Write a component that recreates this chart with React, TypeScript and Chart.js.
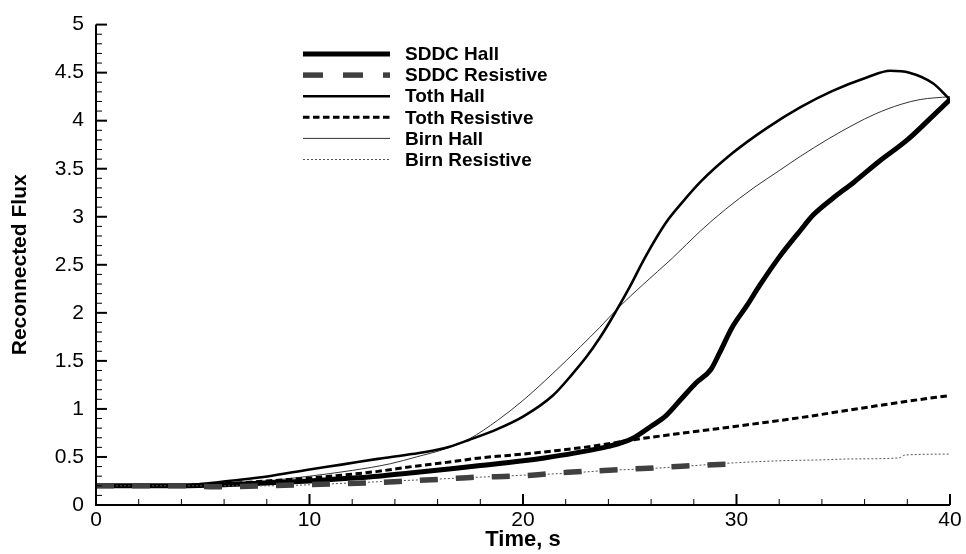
import React, { useEffect, useRef } from "react";
import { Chart, registerables } from "chart.js";

Chart.register(...registerables);

// ---------- data ----------
const seriesNames = ["SDDC Hall", "SDDC Resistive", "Toth Hall", "Toth Resistive", "Birn Hall", "Birn Resistive"];

const sddcHallT = [0, 2, 4, 6, 8, 10, 12, 13.2, 14.6, 16.3, 18, 20, 21, 22.4, 24, 25.1, 26, 26.7, 27.4, 28.1, 28.8, 29.2, 29.8, 30.5, 31.1, 32, 33, 33.6, 34.5, 35.5, 36.7, 38, 39.2, 40];
const sddcHallV = [0.2, 0.2, 0.2, 0.21, 0.23, 0.25, 0.28, 0.3, 0.33, 0.37, 0.41, 0.46, 0.49, 0.54, 0.61, 0.69, 0.82, 0.93, 1.1, 1.27, 1.41, 1.58, 1.85, 2.08, 2.29, 2.58, 2.86, 3.02, 3.19, 3.36, 3.58, 3.8, 4.05, 4.22];

const sddcResT = [0, 4, 5.6, 8, 11, 12.7, 14.6, 16.3, 17.8, 19.6, 20.4, 22.1, 23.8, 25.6, 27.2, 28.9, 30.3];
const sddcResV = [0.2, 0.2, 0.19, 0.2, 0.22, 0.23, 0.25, 0.27, 0.29, 0.3, 0.31, 0.34, 0.36, 0.38, 0.4, 0.42, 0.43];

const tothHallT = [0, 2, 3.9, 5, 6.2, 8.1, 10, 11.5, 13.2, 14.8, 16.3, 17.5, 18.8, 20, 21.4, 22.3, 23, 23.6, 24.1, 25, 25.7, 26.7, 27.5, 28.3, 29.8, 31.4, 33, 34.5, 36.1, 37.2, 38.1, 39.2, 40];
const tothHallV = [0.2, 0.2, 0.2, 0.22, 0.25, 0.3, 0.37, 0.42, 0.48, 0.53, 0.59, 0.68, 0.79, 0.92, 1.14, 1.36, 1.55, 1.74, 1.92, 2.27, 2.57, 2.94, 3.16, 3.36, 3.66, 3.92, 4.14, 4.31, 4.45, 4.52, 4.5, 4.39, 4.22];

const tothResT = [0, 4, 6, 8, 10, 11.5, 13.2, 14.8, 16.3, 18, 20, 21.5, 23.2, 25.2, 27.9, 30, 33, 36.2, 38, 40];
const tothResV = [0.2, 0.2, 0.22, 0.25, 0.28, 0.31, 0.35, 0.4, 0.44, 0.49, 0.53, 0.565, 0.61, 0.68, 0.76, 0.82, 0.91, 1.02, 1.08, 1.14];

const birnHallT = [0, 4, 5.5, 8, 10, 12, 13.8, 15, 16.3, 17.5, 18.8, 19.9, 21.4, 22.7, 23.6, 24.5, 25.6, 27, 28.3, 29.5, 30.8, 32, 33, 34.3, 35.5, 36.5, 37.7, 38.6, 40];
const birnHallV = [0.2, 0.2, 0.21, 0.25, 0.3, 0.36, 0.43, 0.5, 0.58, 0.69, 0.88, 1.07, 1.37, 1.65, 1.85, 2.06, 2.29, 2.57, 2.85, 3.08, 3.3, 3.48, 3.63, 3.81, 3.96, 4.07, 4.17, 4.22, 4.25];

const birnResT = [0, 4, 6, 8, 10, 12, 14, 16, 18, 20, 22, 24, 26, 28, 30, 32, 34, 35.5, 37.6, 37.9, 40];
const birnResV = [0.2, 0.2, 0.2, 0.2, 0.21, 0.23, 0.25, 0.27, 0.29, 0.31, 0.33, 0.36, 0.38, 0.41, 0.44, 0.46, 0.47, 0.48, 0.49, 0.52, 0.53];

const xMajorTicks = [0, 10, 20, 30, 40];
const yMajorTicks = [0, 0.5, 1, 1.5, 2, 2.5, 3, 3.5, 4, 4.5, 5];
const xTitle = "Time, s";
const yTitle = "Reconnected Flux";

// ---------- helpers ----------
const FONT = "'Liberation Sans', Arial, Helvetica, sans-serif";
const pts = (t: number[], v: number[]) => t.map((x, i) => ({ x, y: v[i] }));

const tecAxes = {
  id: "tecAxes",
  afterDraw(chart: any) {
    const { ctx, chartArea: a, scales } = chart;
    const xs = scales.x;
    const ys = scales.y;
    ctx.save();
    ctx.strokeStyle = "#000";
    ctx.lineCap = "butt";
    ctx.lineWidth = 2;
    ctx.beginPath();
    ctx.moveTo(a.left, a.top);
    ctx.lineTo(a.left, a.bottom);
    ctx.lineTo(a.right, a.bottom);
    ctx.stroke();
    for (let i = 0; i < xMajorTicks.length; i++) {
      const v = xMajorTicks[i];
      const p = xs.getPixelForValue(v);
      ctx.lineWidth = 2;
      ctx.beginPath();
      ctx.moveTo(p, a.bottom);
      ctx.lineTo(p, a.bottom - 11);
      ctx.stroke();
      if (i < xMajorTicks.length - 1) {
        const step = (xMajorTicks[i + 1] - v) / 5;
        for (let k = 1; k < 5; k++) {
          const q = xs.getPixelForValue(v + k * step);
          ctx.lineWidth = 1;
          ctx.beginPath();
          ctx.moveTo(q, a.bottom);
          ctx.lineTo(q, a.bottom - 6);
          ctx.stroke();
        }
      }
    }
    for (let i = 0; i < yMajorTicks.length; i++) {
      const v = yMajorTicks[i];
      const p = ys.getPixelForValue(v);
      ctx.lineWidth = 2;
      ctx.beginPath();
      ctx.moveTo(a.left, p);
      ctx.lineTo(a.left + 11, p);
      ctx.stroke();
      if (i < yMajorTicks.length - 1) {
        const step = (yMajorTicks[i + 1] - v) / 5;
        for (let k = 1; k < 5; k++) {
          const q = ys.getPixelForValue(v + k * step);
          ctx.lineWidth = 1;
          ctx.beginPath();
          ctx.moveTo(a.left, q);
          ctx.lineTo(a.left + 6, q);
          ctx.stroke();
        }
      }
    }
    // legend
    const x0 = 303;
    const x1 = 390;
    const tx = 405;
    const y0 = 54;
    const dy = 21.1;
    chart.data.datasets.forEach((ds: any, i: number) => {
      const y = y0 + i * dy;
      ctx.save();
      ctx.strokeStyle = ds.borderColor;
      ctx.lineWidth = ds.borderWidth;
      ctx.setLineDash(ds.legendDash || ds.borderDash || []);
      ctx.beginPath();
      ctx.moveTo(x0, y);
      ctx.lineTo(x1, y);
      ctx.stroke();
      ctx.restore();
      ctx.fillStyle = "#000";
      ctx.font = `bold 19px ${FONT}`;
      ctx.textAlign = "left";
      ctx.textBaseline = "middle";
      ctx.fillText(ds.label, tx, y + 1);
    });
    ctx.restore();
  },
};

export default function App() {
  const ref = useRef<HTMLCanvasElement | null>(null);

  useEffect(() => {
    if (!ref.current) return;
    const chart = new Chart(ref.current, {
      type: "line",
      data: {
        datasets: [
          { label: seriesNames[0], data: pts(sddcHallT, sddcHallV), borderColor: "#000", borderWidth: 5, order: 3 },
          {
            label: seriesNames[1],
            data: pts(sddcResT, sddcResV),
            borderColor: "#404040",
            borderWidth: 5.5,
            borderDash: [18, 18],
            legendDash: [20, 20],
            order: 1,
          } as any,
          { label: seriesNames[2], data: pts(tothHallT, tothHallV), borderColor: "#000", borderWidth: 2.6, order: 4 },
          {
            label: seriesNames[3],
            data: pts(tothResT, tothResV),
            borderColor: "#000",
            borderWidth: 3,
            borderDash: [6.5, 3.5],
            order: 5,
          },
          { label: seriesNames[4], data: pts(birnHallT, birnHallV), borderColor: "#333", borderWidth: 1, order: 6 },
          {
            label: seriesNames[5],
            data: pts(birnResT, birnResV),
            borderColor: "#555",
            borderWidth: 1,
            borderDash: [2, 2],
            order: 2,
          },
        ],
      },
      options: {
        responsive: false,
        animation: false,
        events: [],
        layout: { padding: { left: 0, right: 16, top: 13, bottom: 0 } },
        elements: {
          point: { radius: 0 },
          line: { cubicInterpolationMode: "monotone", borderCapStyle: "butt", borderJoinStyle: "round" },
        },
        plugins: { legend: { display: false }, tooltip: { enabled: false } },
        scales: {
          x: {
            type: "linear",
            min: 0,
            max: 40,
            afterFit: (s: any) => {
              s.height = 49;
            },
            afterBuildTicks: (s: any) => {
              s.ticks = xMajorTicks.map((v) => ({ value: v }));
            },
            grid: { display: false, drawTicks: false },
            border: { display: false },
            ticks: {
              color: "#000",
              padding: 3,
              maxRotation: 0,
              font: { family: FONT, size: 21 },
              callback: (v: any) => String(v),
            },
            title: {
              display: true,
              text: xTitle,
              color: "#000",
              font: { family: FONT, size: 22, weight: "bold" },
              padding: { top: 0, bottom: 1 },
            },
          },
          y: {
            type: "linear",
            min: 0,
            max: 5,
            afterFit: (s: any) => {
              s.width = 96;
            },
            afterBuildTicks: (s: any) => {
              s.ticks = yMajorTicks.map((v) => ({ value: v }));
            },
            grid: { display: false, drawTicks: false },
            border: { display: false },
            ticks: {
              color: "#000",
              padding: 12,
              font: { family: FONT, size: 21 },
              callback: (v: any) => String(v),
            },
            title: {
              display: true,
              text: yTitle,
              color: "#000",
              font: { family: FONT, size: 21, weight: "bold" },
              padding: { top: 8, bottom: 0 },
            },
          },
        },
      },
      plugins: [tecAxes],
    });
    return () => chart.destroy();
  }, []);

  return (
    <div style={{ position: "absolute", left: 0, top: 0, width: 966, height: 554, background: "#fff" }}>
      <canvas ref={ref} width={966} height={554} style={{ display: "block" }} />
    </div>
  );
}
